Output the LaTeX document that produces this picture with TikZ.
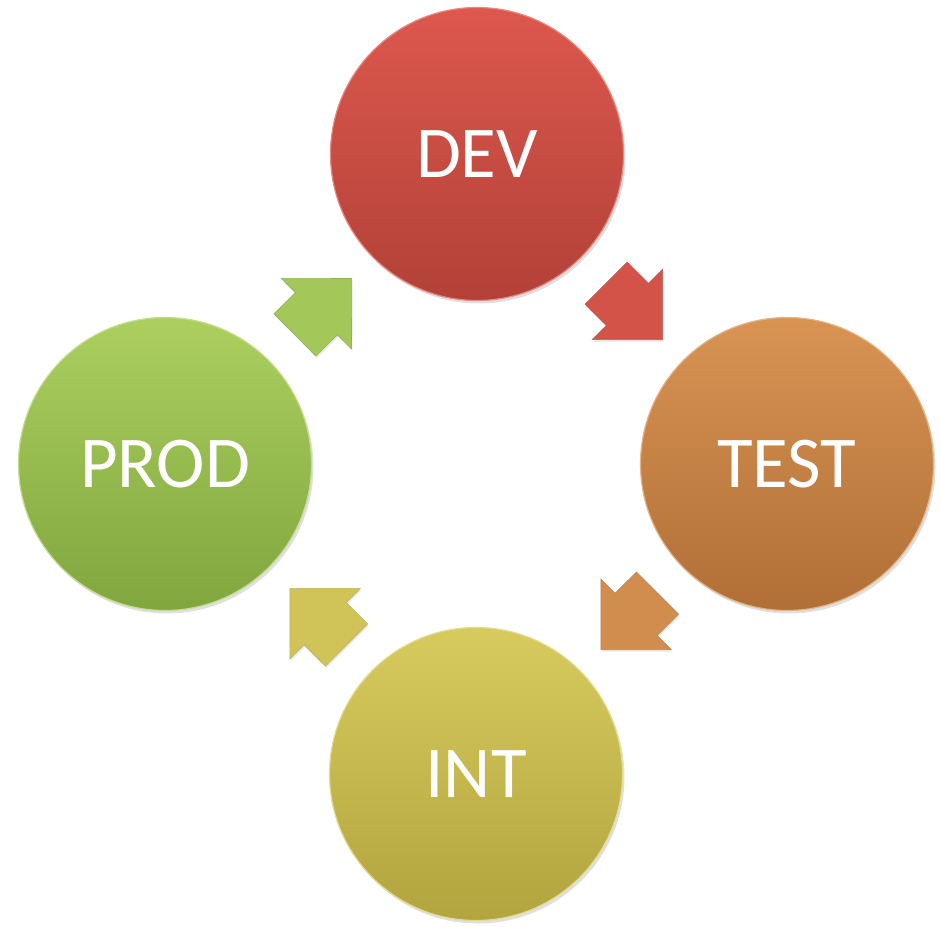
\documentclass[tikz,border=0pt]{standalone}
\usepackage{fontspec}
\setmainfont{Carlito}
\usetikzlibrary{shapes.arrows,shadows}

\definecolor{devtop}{RGB}{221,88,78}
\definecolor{devbot}{RGB}{178,65,55}
\definecolor{testtop}{RGB}{217,148,84}
\definecolor{testbot}{RGB}{176,111,54}
\definecolor{inttop}{RGB}{215,203,94}
\definecolor{intbot}{RGB}{178,164,62}
\definecolor{prodtop}{RGB}{172,207,95}
\definecolor{prodbot}{RGB}{128,166,62}

\tikzset{
  stage/.style={circle, minimum size=293pt, inner sep=0pt,
    top color=#1top, bottom color=#1bot, draw=#1top!70!white, line width=1.2pt,
    drop shadow={shadow xshift=2pt, shadow yshift=-3pt, opacity=0.25},
    text=white, font=\fontsize{73}{73}\selectfont},
  flow/.style={single arrow, single arrow tip angle=90, single arrow head extend=20pt,
    minimum height=80pt, inner xsep=0pt, inner ysep=29.5pt, allow upside down,
    fill=#1top!80!#1bot, draw=#1bot!85!white, line width=0.6pt,
    drop shadow={shadow xshift=1pt, shadow yshift=-2pt, opacity=0.2}}
}

\begin{document}
\begin{tikzpicture}
  \useasboundingbox (-476pt,-462pt) rectangle (465pt,464pt);

  % Stages of the cycle
  \node[stage=dev]  (dev)  at (1pt,310pt)   {DEV};
  \node[stage=test] (test) at (311pt,0pt)   {TEST};
  \node[stage=int]  (int)  at (0pt,-310pt)  {INT};
  \node[stage=prod] (prod) at (-311pt,0pt)  {PROD};

  % Block arrows between the stages
  \path (dev)  -- (test) node[pos=0.42, sloped, flow=dev]  (a1) {};
  \path (test) -- (int)  node[pos=0.42, sloped, flow=test] (a2) {};
  \path (int)  -- (prod) node[pos=0.42, sloped, flow=int]  (a3) {};
  \path (prod) -- (dev)  node[pos=0.42, sloped, flow=prod] (a4) {};
\end{tikzpicture}
\end{document}
